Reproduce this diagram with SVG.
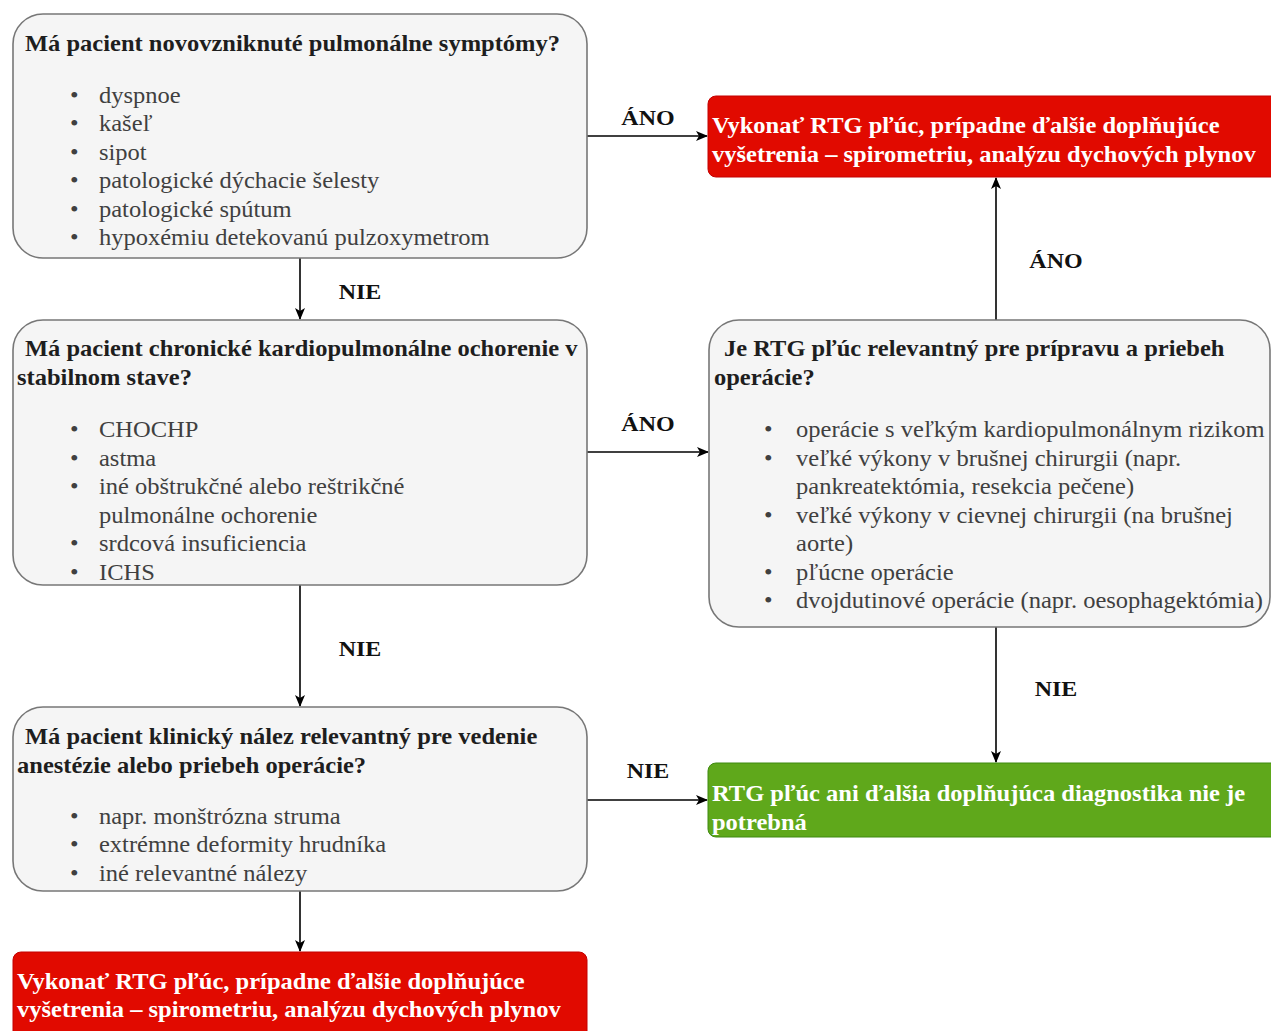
<svg xmlns="http://www.w3.org/2000/svg" width="1271" height="1031" viewBox="0 0 1271 1031">
  <defs>
    <marker id="arrow" viewBox="0 0 12 10" refX="11" refY="5" markerWidth="12" markerHeight="10" markerUnits="userSpaceOnUse" orient="auto">
      <path d="M0,0 L12,5 L0,10 L3,5 Z" fill="#000"/>
    </marker>
    <style>
      .q { fill: #f5f5f5; stroke: #777777; stroke-width: 1.6; }
      .red { fill: #e10a00; stroke: #c40000; stroke-width: 1; }
      .green { fill: #5fa81b; stroke: #3f8a10; stroke-width: 1; }
      .title { font-family: "Liberation Serif", "Times New Roman", serif; font-weight: bold; font-size: 22.5px; fill: #1e1e1e; }
      .item { font-family: "Liberation Serif", "Times New Roman", serif; font-size: 22.5px; fill: #404040; }
      .res { font-family: "Liberation Serif", "Times New Roman", serif; font-weight: bold; font-size: 22.5px; fill: #ffffff; }
      .lbl { font-family: "Liberation Serif", "Times New Roman", serif; font-weight: bold; font-size: 22px; fill: #111; text-anchor: middle; }
      .edge { fill: none; stroke: #000; stroke-width: 1.6; marker-end: url(#arrow); }
    </style>
  </defs>
  <rect width="1271" height="1031" fill="#ffffff"/>

  <!-- connectors (labels are set in a horizontally widened serif, hence the scale) -->
  <g id="connectors">
    <path class="edge" d="M587,136 L707,136"/>
    <path class="edge" d="M300,258 L300,319"/>
    <path class="edge" d="M587,452 L708,452"/>
    <path class="edge" d="M300,585 L300,706"/>
    <path class="edge" d="M587,800 L707,800"/>
    <path class="edge" d="M300,891 L300,951"/>
    <path class="edge" d="M996,320 L996,178"/>
    <path class="edge" d="M996,627 L996,762"/>
    <g transform="scale(1.09,1)">
      <text class="lbl" x="594.5" y="125">ÁNO</text>
      <text class="lbl" x="330.3" y="299">NIE</text>
      <text class="lbl" x="594.5" y="431">ÁNO</text>
      <text class="lbl" x="330.3" y="656">NIE</text>
      <text class="lbl" x="594.5" y="778">NIE</text>
      <text class="lbl" x="968.8" y="268">ÁNO</text>
      <text class="lbl" x="968.8" y="696">NIE</text>
    </g>
  </g>

  <!-- question: new pulmonary symptoms -->
  <g id="q-symptoms">
    <rect class="q" x="13" y="14" width="574" height="244" rx="30" ry="30"/>
    <g transform="scale(1.09,1)">
      <text class="title" x="22.9" y="51">Má pacient novovzniknuté pulmonálne symptómy?</text>
      <g class="item">
        <text x="64.2" y="103">•</text><text x="90.8" y="103">dyspnoe</text>
        <text x="64.2" y="131">•</text><text x="90.8" y="131">kašeľ</text>
        <text x="64.2" y="160">•</text><text x="90.8" y="160">sipot</text>
        <text x="64.2" y="188">•</text><text x="90.8" y="188">patologické dýchacie šelesty</text>
        <text x="64.2" y="217">•</text><text x="90.8" y="217">patologické spútum</text>
        <text x="64.2" y="245">•</text><text x="90.8" y="245">hypoxémiu detekovanú pulzoxymetrom</text>
      </g>
    </g>
  </g>

  <!-- question: chronic cardiopulmonary disease -->
  <g id="q-chronic">
    <rect class="q" x="13" y="320" width="574" height="265" rx="30" ry="30"/>
    <g transform="scale(1.09,1)">
      <text class="title" x="22.9" y="356">Má pacient chronické kardiopulmonálne ochorenie v</text>
      <text class="title" x="15.6" y="385">stabilnom stave?</text>
      <g class="item">
        <text x="64.2" y="437">•</text><text x="90.8" y="437">CHOCHP</text>
        <text x="64.2" y="466">•</text><text x="90.8" y="466">astma</text>
        <text x="64.2" y="494">•</text><text x="90.8" y="494">iné obštrukčné alebo reštrikčné</text>
        <text x="90.8" y="523">pulmonálne ochorenie</text>
        <text x="64.2" y="551">•</text><text x="90.8" y="551">srdcová insuficiencia</text>
        <text x="64.2" y="580">•</text><text x="90.8" y="580">ICHS</text>
      </g>
    </g>
  </g>

  <!-- question: clinical finding -->
  <g id="q-finding">
    <rect class="q" x="13" y="707" width="574" height="184" rx="30" ry="30"/>
    <g transform="scale(1.09,1)">
      <text class="title" x="22.9" y="744">Má pacient klinický nález relevantný pre vedenie</text>
      <text class="title" x="15.6" y="773">anestézie alebo priebeh operácie?</text>
      <g class="item">
        <text x="64.2" y="824">•</text><text x="90.8" y="824">napr. monštrózna struma</text>
        <text x="64.2" y="852">•</text><text x="90.8" y="852">extrémne deformity hrudníka</text>
        <text x="64.2" y="881">•</text><text x="90.8" y="881">iné relevantné nálezy</text>
      </g>
    </g>
  </g>

  <!-- question: relevance of chest X-ray for surgery -->
  <g id="q-relevance">
    <rect class="q" x="709" y="320" width="561" height="307" rx="30" ry="30"/>
    <g transform="scale(1.09,1)">
      <text class="title" x="664.2" y="356">Je RTG pľúc relevantný pre prípravu a priebeh</text>
      <text class="title" x="655.0" y="385">operácie?</text>
      <g class="item">
        <text x="700.9" y="437">•</text><text x="730.3" y="437">operácie s veľkým kardiopulmonálnym rizikom</text>
        <text x="700.9" y="466">•</text><text x="730.3" y="466">veľké výkony v brušnej chirurgii (napr.</text>
        <text x="730.3" y="494">pankreatektómia, resekcia pečene)</text>
        <text x="700.9" y="523">•</text><text x="730.3" y="523">veľké výkony v cievnej chirurgii (na brušnej</text>
        <text x="730.3" y="551">aorte)</text>
        <text x="700.9" y="580">•</text><text x="730.3" y="580">pľúcne operácie</text>
        <text x="700.9" y="608">•</text><text x="730.3" y="608">dvojdutinové operácie (napr. oesophagektómia)</text>
      </g>
    </g>
  </g>

  <!-- result: perform chest X-ray (top) -->
  <g id="r-xray-top">
    <rect class="red" x="708" y="96" width="580" height="81" rx="8" ry="8"/>
    <g transform="scale(1.09,1)">
      <text class="res" x="653.2" y="133">Vykonať RTG pľúc, prípadne ďalšie doplňujúce</text>
      <text class="res" x="653.2" y="162">vyšetrenia – spirometriu, analýzu dychových plynov</text>
    </g>
  </g>

  <!-- result: no further diagnostics -->
  <g id="r-none">
    <rect class="green" x="708" y="763" width="580" height="74" rx="8" ry="8"/>
    <g transform="scale(1.09,1)">
      <text class="res" x="653.2" y="801">RTG pľúc ani ďalšia doplňujúca diagnostika nie je</text>
      <text class="res" x="653.2" y="830">potrebná</text>
    </g>
  </g>

  <!-- result: perform chest X-ray (bottom) -->
  <g id="r-xray-bottom">
    <rect class="red" x="13" y="952" width="574" height="90" rx="8" ry="8"/>
    <g transform="scale(1.09,1)">
      <text class="res" x="15.6" y="989">Vykonať RTG pľúc, prípadne ďalšie doplňujúce</text>
      <text class="res" x="15.6" y="1017">vyšetrenia – spirometriu, analýzu dychových plynov</text>
    </g>
  </g>
</svg>
